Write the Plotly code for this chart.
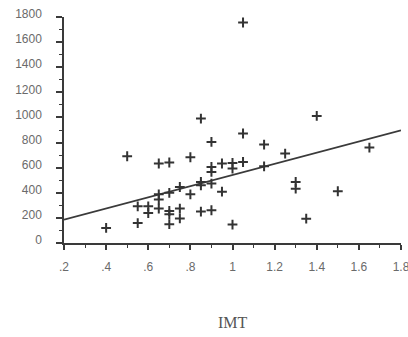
import plotly.graph_objects as go

# IMT values (x) and corresponding y values
imt = [0.40, 0.50, 0.55, 0.55, 0.60, 0.60,
       0.65, 0.65, 0.65, 0.65,
       0.70, 0.70, 0.70, 0.70, 0.70,
       0.75, 0.75, 0.75,
       0.80, 0.80,
       0.85, 0.85, 0.85, 0.85,
       0.90, 0.90, 0.90, 0.90, 0.90,
       0.95, 0.95,
       1.00, 1.00, 1.00,
       1.05, 1.05, 1.05,
       1.15, 1.15,
       1.25, 1.30, 1.30, 1.35, 1.40, 1.50, 1.65]
values = [120, 691, 292, 159, 292, 239,
          633, 388, 346, 274,
          641, 400, 255, 228, 150,
          446, 274, 196,
          683, 388,
          991, 486, 460, 250,
          805, 606, 566, 473, 261,
          633, 409,
          637, 593, 147,
          1756, 872, 645,
          784, 611,
          712, 486, 433, 194, 1012, 412, 760]

# regression line end points
fit_x = [0.2, 1.8]
fit_y = [186, 898]

x_tickvals = [0.2, 0.4, 0.6, 0.8, 1.0, 1.2, 1.4, 1.6, 1.8]
x_ticktext = [".2", ".4", ".6", ".8", "1", "1.2", "1.4", "1.6", "1.8"]
y_tickvals = [0, 200, 400, 600, 800, 1000, 1200, 1400, 1600, 1800]

fig = go.Figure()
fig.add_trace(go.Scatter(
    x=fit_x, y=fit_y, mode="lines",
    line=dict(color="#3a3a3a", width=1.8),
    showlegend=False, hoverinfo="skip"))
fig.add_trace(go.Scatter(
    x=imt, y=values, mode="markers",
    marker=dict(symbol="cross-thin", size=7,
                line=dict(color="#333333", width=2)),
    cliponaxis=False, showlegend=False))

tickfont = dict(family="Liberation Sans, Arial, sans-serif", size=12, color="#6a6a6a")

fig.update_layout(
    width=408, height=337,
    margin=dict(l=64, r=7, t=17, b=94),
    paper_bgcolor="white", plot_bgcolor="white",
    xaxis=dict(range=[0.2, 1.8], tickvals=x_tickvals, ticktext=x_ticktext,
               showgrid=False, zeroline=False, showline=True,
               linecolor="#3a3a3a", linewidth=1.5,
               ticks="outside", ticklen=5, tickwidth=1.5, tickcolor="#3a3a3a",
               minor=dict(dtick=0.1, ticks="outside", ticklen=3,
                          tickwidth=1, tickcolor="#3a3a3a", showgrid=False),
               tickfont=tickfont, ticklabelstandoff=7,
               ticklabeloverflow="allow", automargin=False),
    yaxis=dict(range=[0, 1800], tickvals=y_tickvals,
               showgrid=False, zeroline=False, showline=True,
               linecolor="#3a3a3a", linewidth=1.5,
               ticks="outside", ticklen=6, tickwidth=1.5, tickcolor="#3a3a3a",
               minor=dict(dtick=100, ticks="outside", ticklen=3,
                          tickwidth=1, tickcolor="#3a3a3a", showgrid=False),
               tickfont=tickfont, ticklabelstandoff=12, ticklabelshift=-3,
               ticklabeloverflow="allow", automargin=False),
    annotations=[dict(text="IMT", xref="paper", yref="paper",
                      x=0.5, y=-0.35, xanchor="center", yanchor="middle",
                      showarrow=False,
                      font=dict(family="Liberation Serif, Times New Roman, serif",
                                size=16, color="#555555"))],
)

fig.write_html("out.html")
